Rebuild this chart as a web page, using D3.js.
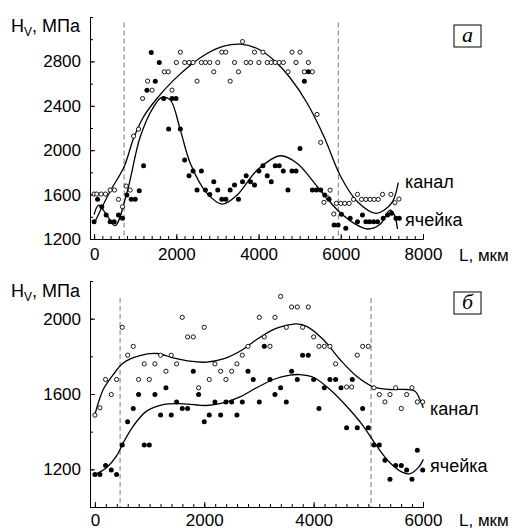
<!DOCTYPE html>
<html lang="ru">
<head>
<meta charset="UTF-8">
<title>Hv</title>
<script src="https://d3js.org/d3.v7.min.js"></script>
<style>
body { margin: 0; background: #fff; }
svg { display: block; }
text { font-family: 'Liberation Sans', Arial, sans-serif; fill: #000; }
</style>
</head>
<body>
<script>
// --- panel a: [L, Hv] ---
const kanalA = [[0,1605],[65,1605],[171,1605],[276,1605],[390,1641],[496,1641],[593,1557],[691,1491],[780,1677],[878,1641],
  [959,2127],[1081,2190],[1179,2466],[1301,2622],[1410,2541],[1707,2706],[1805,2706],[1894,2541],[2000,2790],[2098,2883],
  [2203,2790],[2309,2790],[2407,2790],[2504,2622],[2610,2790],[2707,2790],[2813,2790],[2911,2706],[3008,2790],[3106,2883],
  [3203,2883],[3309,2622],[3415,2790],[3512,2706],[3610,2979],[3699,2790],[3805,2790],[3902,2883],[4008,2790],[4106,2883],
  [4211,2790],[4309,2790],[4406,2790],[4504,2790],[4602,2790],[4715,2706],[4813,2883],[4911,2790],[5008,2883],[5114,2706],
  [5211,2790],[5309,2706],[5423,2322],[5512,2070],[5590,1530],[5690,1570],[5740,1640],[5830,1425],[5894,1521],[6000,1521],
  [6098,1521],[6203,1521],[6309,1557],[6406,1602],[6504,1557],[6610,1557],[6715,1557],[6813,1557],[6911,1557],[7016,1602],
  [7219,1602],[7317,1527],[7415,1560]];
const cellA = [[0,1356],[85,1557],[187,1491],[293,1416],[390,1356],[488,1356],[593,1416],[691,1386],[797,1596],[903,1557],
  [1000,1557],[1098,1635],[1203,1860],[1285,2541],[1390,2880],[1488,2622],[1585,2790],[1691,2466],[1813,2190],[1894,2466],
  [1992,2466],[2098,2190],[2203,1911],[2309,1770],[2407,1812],[2504,1641],[2610,1812],[2707,1641],[2813,1602],[2911,1716],
  [3008,1641],[3106,1557],[3203,1557],[3309,1641],[3415,1686],[3512,1557],[3610,1716],[3699,1770],[3805,1716],[3902,1686],
  [4008,1812],[4106,1860],[4211,1770],[4309,1716],[4406,1860],[4504,1860],[4602,1812],[4715,1641],[4813,1812],[4911,1812],
  [5008,2016],[5114,2622],[5211,2706],[5309,1641],[5406,1641],[5512,1641],[5610,1596],[5715,1557],[5837,1326],[5935,1326],
  [6016,1422],[6122,1296],[6228,1386],[6406,1356],[6528,1416],[6610,1356],[6700,1356],[6800,1356],[6895,1356],[7032,1386],
  [7138,1416],[7236,1431],[7341,1386],[7423,1386]];
const kanalFitA = [[0,1340],[390,1630],[730,1851],[959,2105],[1203,2301],[1528,2466],[1935,2631],[2341,2766],[2748,2871],
  [3154,2937],[3561,2955],[3967,2916],[4374,2811],[4780,2646],[5187,2421],[5593,2121],[6000,1761],[6406,1536],[6854,1431],
  [7057,1461],[7260,1536],[7400,1707]];
const cellFitA = [[0,1420],[110,1505],[300,1420],[510,1320],[800,1620],[1122,2121],[1447,2391],[1650,2475],[1854,2451],
  [2098,2181],[2341,1881],[2748,1611],[3114,1515],[3480,1596],[3967,1821],[4537,1950],[4943,1881],[5431,1671],[5919,1461],
  [6325,1341],[6650,1290],[6950,1330],[7200,1460],[7300,1420],[7380,1290]];
const boundsA = [730, 5940];

// --- panel б ---
const kanalB = [[0,1488],[91,1527],[195,1677],[299,1597],[396,1677],[500,1954],[598,1806],[701,1853],[799,1677],[902,1760],
  [994,1677],[1097,1760],[1201,1806],[1299,1721],[1396,1806],[1494,1760],[1597,2007],[1695,1903],[1799,1903],[1896,1633],
  [2000,1954],[2091,1677],[2195,1760],[2299,1721],[2396,1677],[2500,1721],[2597,1760],[2695,1806],[2799,1853],[3006,2007],
  [3097,1903],[3201,1853],[3292,2007],[3396,2118],[3500,1954],[3597,2062],[3701,2062],[3798,1954],[3902,2062],[4000,1903],
  [4097,1853],[4195,1853],[4298,1853],[4402,1760],[4603,1637],[4695,1637],[4798,1806],[4896,1853],[5000,1853],[5103,1633],
  [5201,1597],[5304,1558],[5396,1597],[5500,1633],[5603,1523],[5701,1597],[5798,1633],[5896,1558],[5994,1558]];
const cellB = [[0,1173],[91,1173],[195,1221],[299,1196],[396,1173],[500,1329],[598,1453],[701,1523],[799,1597],[902,1329],
  [994,1329],[1097,1597],[1201,1488],[1299,1633],[1396,1488],[1494,1558],[1597,1523],[1695,1523],[1799,1721],[1896,1597],
  [2000,1453],[2091,1488],[2195,1558],[2299,1488],[2396,1558],[2500,1558],[2597,1488],[2695,1558],[2799,1721],[2896,1677],
  [3006,1558],[3097,1853],[3201,1677],[3292,1597],[3396,1633],[3500,1558],[3597,1721],[3701,1677],[3798,1806],[3902,1806],
  [4000,1677],[4097,1523],[4195,1633],[4298,1677],[4402,1677],[4500,1633],[4603,1421],[4707,1677],[4798,1421],[4896,1523],
  [5000,1421],[5103,1329],[5201,1329],[5304,1248],[5396,1147],[5500,1221],[5603,1221],[5701,1196],[5798,1147],[5896,1301],
  [5994,1196]];
const kanalFitB = [[0,1491],[152,1624],[335,1703],[518,1765],[823,1804],[1128,1815],[1433,1792],[1738,1774],[2043,1769],
  [2347,1786],[2652,1827],[2957,1889],[3262,1942],[3567,1968],[3689,1972],[3872,1959],[4176,1889],[4481,1783],[4786,1694],
  [5091,1638],[5396,1624],[5701,1624],[5853,1615],[5945,1571],[6006,1527]];
const cellFitB = [[0,1173],[213,1209],[396,1271],[518,1341],[701,1430],[945,1509],[1250,1544],[1616,1548],[2043,1539],
  [2347,1553],[2652,1585],[2957,1633],[3262,1677],[3567,1700],[3750,1703],[3994,1689],[4298,1624],[4603,1535],[4908,1430],
  [5152,1324],[5396,1235],[5640,1182],[5762,1177],[5914,1209],[6006,1253]];
const boundsB = [460, 5050];

const panels = [
  { x: [-100, 8000], y: [1200, 3200], xTicks: [0, 2000, 4000, 6000, 8000], yTicks: [1200, 1600, 2000, 2400, 2800],
    top: 17, bottom: 239, dashTop: 3150, kanal: kanalA, cell: cellA, kanalFit: kanalFitA, cellFit: cellFitA, bounds: boundsA,
    tag: 'а', tagY: 25, hvY: 32, lY: 261, kanalLbl: [405, 188], cellLbl: [405, 226], pad: 9 },
  { x: [-90, 6000], y: [1000, 2200], xTicks: [0, 2000, 4000, 6000], yTicks: [1200, 1600, 2000],
    top: 281, bottom: 507, dashTop: 2110, kanal: kanalB, cell: cellB, kanalFit: kanalFitB, cellFit: cellFitB, bounds: boundsB,
    tag: 'б', tagY: 292, hvY: 297, lY: 526, kanalLbl: [430, 415], cellLbl: [430, 472], pad: 7 }
];

const svg = d3.select('body').append('svg').attr('width', 520).attr('height', 530);

panels.forEach(p => {
  const x = d3.scaleLinear().domain(p.x).range([90, 423]);
  const y = d3.scaleLinear().domain(p.y).range([p.bottom, p.top]);
  const g = svg.append('g');

  // minor ticks every 200
  const minorX = d3.range(0, p.x[1] + 1, 200);
  const minorY = d3.range(p.y[0], p.y[1] + 1, 200);
  g.append('g').attr('transform', `translate(0,${p.bottom})`)
    .call(d3.axisBottom(x).tickValues(minorX).tickSize(-3).tickSizeOuter(0).tickFormat(''));
  g.append('g').attr('transform', `translate(90,0)`)
    .call(d3.axisLeft(y).tickValues(minorY).tickSize(-3).tickSizeOuter(0).tickFormat(''));

  const ax = g.append('g').attr('transform', `translate(0,${p.bottom})`)
    .call(d3.axisBottom(x).tickValues(p.xTicks).tickSize(-5).tickSizeOuter(0).tickPadding(p.pad).tickFormat(d3.format('d')));
  const ay = g.append('g').attr('transform', `translate(90,0)`)
    .call(d3.axisLeft(y).tickValues(p.yTicks).tickSize(-5).tickSizeOuter(0).tickPadding(9).tickFormat(d3.format('d')));
  [ax, ay].forEach(a => {
    a.selectAll('text').style('font-size', '17px').style('font-family', "'Liberation Sans', Arial, sans-serif");
    a.selectAll('path, line').attr('stroke', '#000');
  });
  g.selectAll('.domain').attr('stroke', '#000');

  // dashed boundaries
  g.selectAll('.bound').data(p.bounds).enter().append('line')
    .attr('x1', d => x(d)).attr('x2', d => x(d))
    .attr('y1', y(p.dashTop)).attr('y2', p.bottom)
    .attr('stroke', '#777').attr('stroke-width', 1).attr('stroke-dasharray', '5,3');

  const line = d3.line().x(d => x(d[0])).y(d => y(d[1])).curve(d3.curveCatmullRom.alpha(0.5));
  [p.kanalFit, p.cellFit].forEach(f => {
    g.append('path').attr('d', line(f)).attr('fill', 'none').attr('stroke', '#000').attr('stroke-width', 1.3);
  });

  g.selectAll('.open').data(p.kanal).enter().append('circle')
    .attr('cx', d => x(d[0])).attr('cy', d => y(d[1])).attr('r', 2.1)
    .attr('fill', '#fff').attr('stroke', '#000').attr('stroke-width', 0.9);
  g.selectAll('.full').data(p.cell).enter().append('circle')
    .attr('cx', d => x(d[0])).attr('cy', d => y(d[1])).attr('r', 2.5)
    .attr('fill', '#000');

  // labels
  const hv = g.append('text').attr('x', 11).attr('y', p.hvY).style('font-size', '18px');
  hv.append('tspan').text('H');
  hv.append('tspan').text('V').style('font-size', '12px').attr('dy', 4);
  hv.append('tspan').text(', МПа').attr('dy', -4);

  g.append('text').attr('x', 459).attr('y', p.lY).style('font-size', '17px').text('L, мкм');
  g.append('text').attr('x', p.kanalLbl[0]).attr('y', p.kanalLbl[1]).style('font-size', '18px').text('канал');
  g.append('text').attr('x', p.cellLbl[0]).attr('y', p.cellLbl[1]).style('font-size', '18px').text('ячейка');

  g.append('rect').attr('x', 454).attr('y', p.tagY).attr('width', 27).attr('height', 22)
    .attr('fill', '#fff').attr('stroke', '#000').attr('stroke-width', 1);
  g.append('text').attr('x', 467.5).attr('y', p.tagY + 17).attr('text-anchor', 'middle')
    .style('font-family', "'Liberation Serif', 'Times New Roman', serif").style('font-style', 'italic').style('font-size', '22px')
    .text(p.tag);
});
</script>
</body>
</html>
